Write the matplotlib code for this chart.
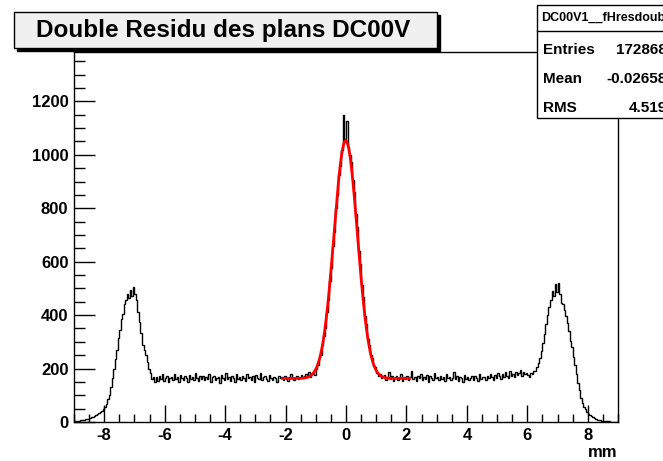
import numpy as np
import matplotlib
matplotlib.use('Agg')
import matplotlib.pyplot as plt
from matplotlib.patches import Rectangle
from matplotlib.ticker import MultipleLocator

plt.rcParams['font.family'] = ['Liberation Sans', 'DejaVu Sans']
plt.rcParams['font.weight'] = 'bold'
plt.rcParams['axes.unicode_minus'] = False

# histogramme : 360 bins de 0.05 mm entre -9 et 9
x_min, x_max, n_bins = -9.0, 9.0, 360

left_tail = [3, 3, 4, 5, 6, 7, 8, 10, 11, 13, 15, 17, 20, 23, 25, 29, 34, 38, 43]

left_peak = [48, 55, 68, 85, 100, 130, 165, 200, 235, 270,
             315, 345, 385, 405, 440, 455, 480, 465, 495, 470,
             505, 480, 455, 410, 375, 335, 290, 270, 250, 225,
             200, 185, 160, 170, 150]

flat_left = [168, 152, 171, 160, 178, 155, 166, 174, 149, 163,
             170, 158, 181, 162, 167, 150, 175, 164, 159, 172,
             166, 148, 177, 161, 169, 157, 183, 165, 153, 171,
             160, 174, 156, 168, 162, 179, 151, 167, 173, 158,
             164, 170, 147, 176, 163, 159, 185, 161, 168, 155,
             172, 166, 150, 178, 162, 169, 157, 174, 165, 152,
             180, 163, 167, 158, 171, 149, 175, 164, 160, 182,
             156, 168, 173, 161, 154, 177, 166, 159, 170, 163,
             151, 174, 165, 168, 157, 172, 161, 155, 169, 178,
             163, 158, 166, 171, 160, 164, 175, 168, 172, 180,
             176, 186]

central_peak = [170, 178, 185, 176, 197, 212, 240, 252, 290, 322,
                352, 412, 455, 528, 575, 660, 712, 800, 848, 925,
                960, 1020, 1148, 1060,
                1125, 1030, 1000, 975, 905, 862, 780, 730, 640, 590,
                512, 468, 398, 365, 312, 290, 250, 238, 210, 205,
                185, 172, 180, 166]

flat_right = [168, 175, 158, 163, 186, 160, 171, 154, 166, 172,
              159, 165, 178, 152, 169, 162, 174, 157, 167, 190,
              161, 170, 155, 173, 164, 181, 158, 168, 162, 176,
              150, 171, 165, 159, 184, 163, 169, 156, 174, 161,
              167, 153, 179, 164, 170, 158, 166, 187, 160, 172,
              155, 168, 163, 148, 175, 162, 169, 157, 166, 173,
              159, 171, 164, 152, 178, 161, 167, 170, 156, 174,
              163, 181, 168, 159, 175, 166, 183, 171, 162, 178,
              169, 187, 174, 166, 192, 172, 180, 168, 188, 176,
              182, 195, 171, 186, 178, 183]

right_peak = [175, 170, 185, 178, 192, 190, 205, 222, 238, 265,
              295, 330, 368, 400, 430, 458, 490, 470, 515, 488,
              520, 480, 445, 440, 418, 395, 372, 340, 305, 280,
              245, 212, 180, 145, 118, 90, 72, 58, 48, 38,
              30, 26, 22, 18, 14, 11, 8, 7, 6, 5,
              4, 3, 3, 2, 2, 1, 1, 1, 0, 0]

# parametres du fit gaus + pol0
fit_bkg, fit_amp, fit_mean, fit_sigma = 163.0, 890.0, -0.01, 0.388
fit_lo, fit_hi = -2.1, 2.1

stats_name = 'DC00V1__fHresdouble'
stats_rows = [('Entries', '172868'), ('Mean', '-0.02658'), ('RMS', '4.519')]

counts = np.concatenate([left_tail, left_peak, flat_left, central_peak,
                         flat_right, right_peak])
edges = np.linspace(x_min, x_max, n_bins + 1)

W, H = 663, 461


def fx(px):
    return px / W


def fy(py):
    return 1 - py / H


fig = plt.figure(figsize=(W / 100, H / 100), dpi=100)
fig.patch.set_facecolor('white')
ax = fig.add_axes([fx(74), fy(422), 544 / W, 370 / H])

ax.stairs(counts, edges, color='black', lw=1)
xf = np.linspace(fit_lo, fit_hi, 400)
yf = fit_bkg + fit_amp * np.exp(-0.5 * ((xf - fit_mean) / fit_sigma) ** 2)
ax.plot(xf, yf, color='red', lw=2)

ax.set_xlim(x_min, x_max)
ax.set_ylim(0, 1385)
ax.xaxis.set_major_locator(MultipleLocator(2))
ax.xaxis.set_minor_locator(MultipleLocator(0.5))
ax.yaxis.set_major_locator(MultipleLocator(200))
ax.yaxis.set_minor_locator(MultipleLocator(50))
ax.tick_params(which='both', direction='in', top=False, right=False,
               labelsize=12, width=1)
ax.tick_params(axis='y', which='major', length=15, pad=4)
ax.tick_params(axis='y', which='minor', length=8)
ax.tick_params(axis='x', which='major', length=12, pad=4)
ax.tick_params(axis='x', which='minor', length=6)
for lab in ax.get_xticklabels() + ax.get_yticklabels():
    lab.set_fontweight('bold')
for sp in ax.spines.values():
    sp.set_linewidth(1)

fig.text(fx(617), fy(452), 'mm', ha='right', va='center',
         fontsize=12, fontweight='bold')

# boite de titre avec ombre
fig.add_artist(Rectangle((fx(17), fy(51)), 423 / W, 36 / H,
                         transform=fig.transFigure, facecolor='black',
                         edgecolor='black'))
fig.add_artist(Rectangle((fx(14), fy(48)), 423 / W, 36 / H,
                         transform=fig.transFigure, facecolor='#f0f0f0',
                         edgecolor='black', lw=1))
fig.text(fx(223), fy(30), 'Double Residu des plans DC00V', ha='center',
         va='center', fontsize=17.5, fontweight='bold')

# boite de statistiques
fig.add_artist(Rectangle((fx(537), fy(118)), 140 / W, 113 / H,
                         transform=fig.transFigure, facecolor='white',
                         edgecolor='black', lw=1))
fig.add_artist(plt.Line2D([fx(537), fx(663)], [fy(31), fy(31)],
                          transform=fig.transFigure, color='black', lw=1))
fig.text(fx(541), fy(18), stats_name, ha='left', va='center',
         fontsize=9, fontweight='bold')
for i, (name, val) in enumerate(stats_rows):
    y = fy(50 + 29 * i)
    fig.text(fx(543), y, name, ha='left', va='center', fontsize=11,
             fontweight='bold')
    fig.text(fx(667), y, val, ha='right', va='center', fontsize=11,
             fontweight='bold')

fig.savefig('out.png', dpi=100)
